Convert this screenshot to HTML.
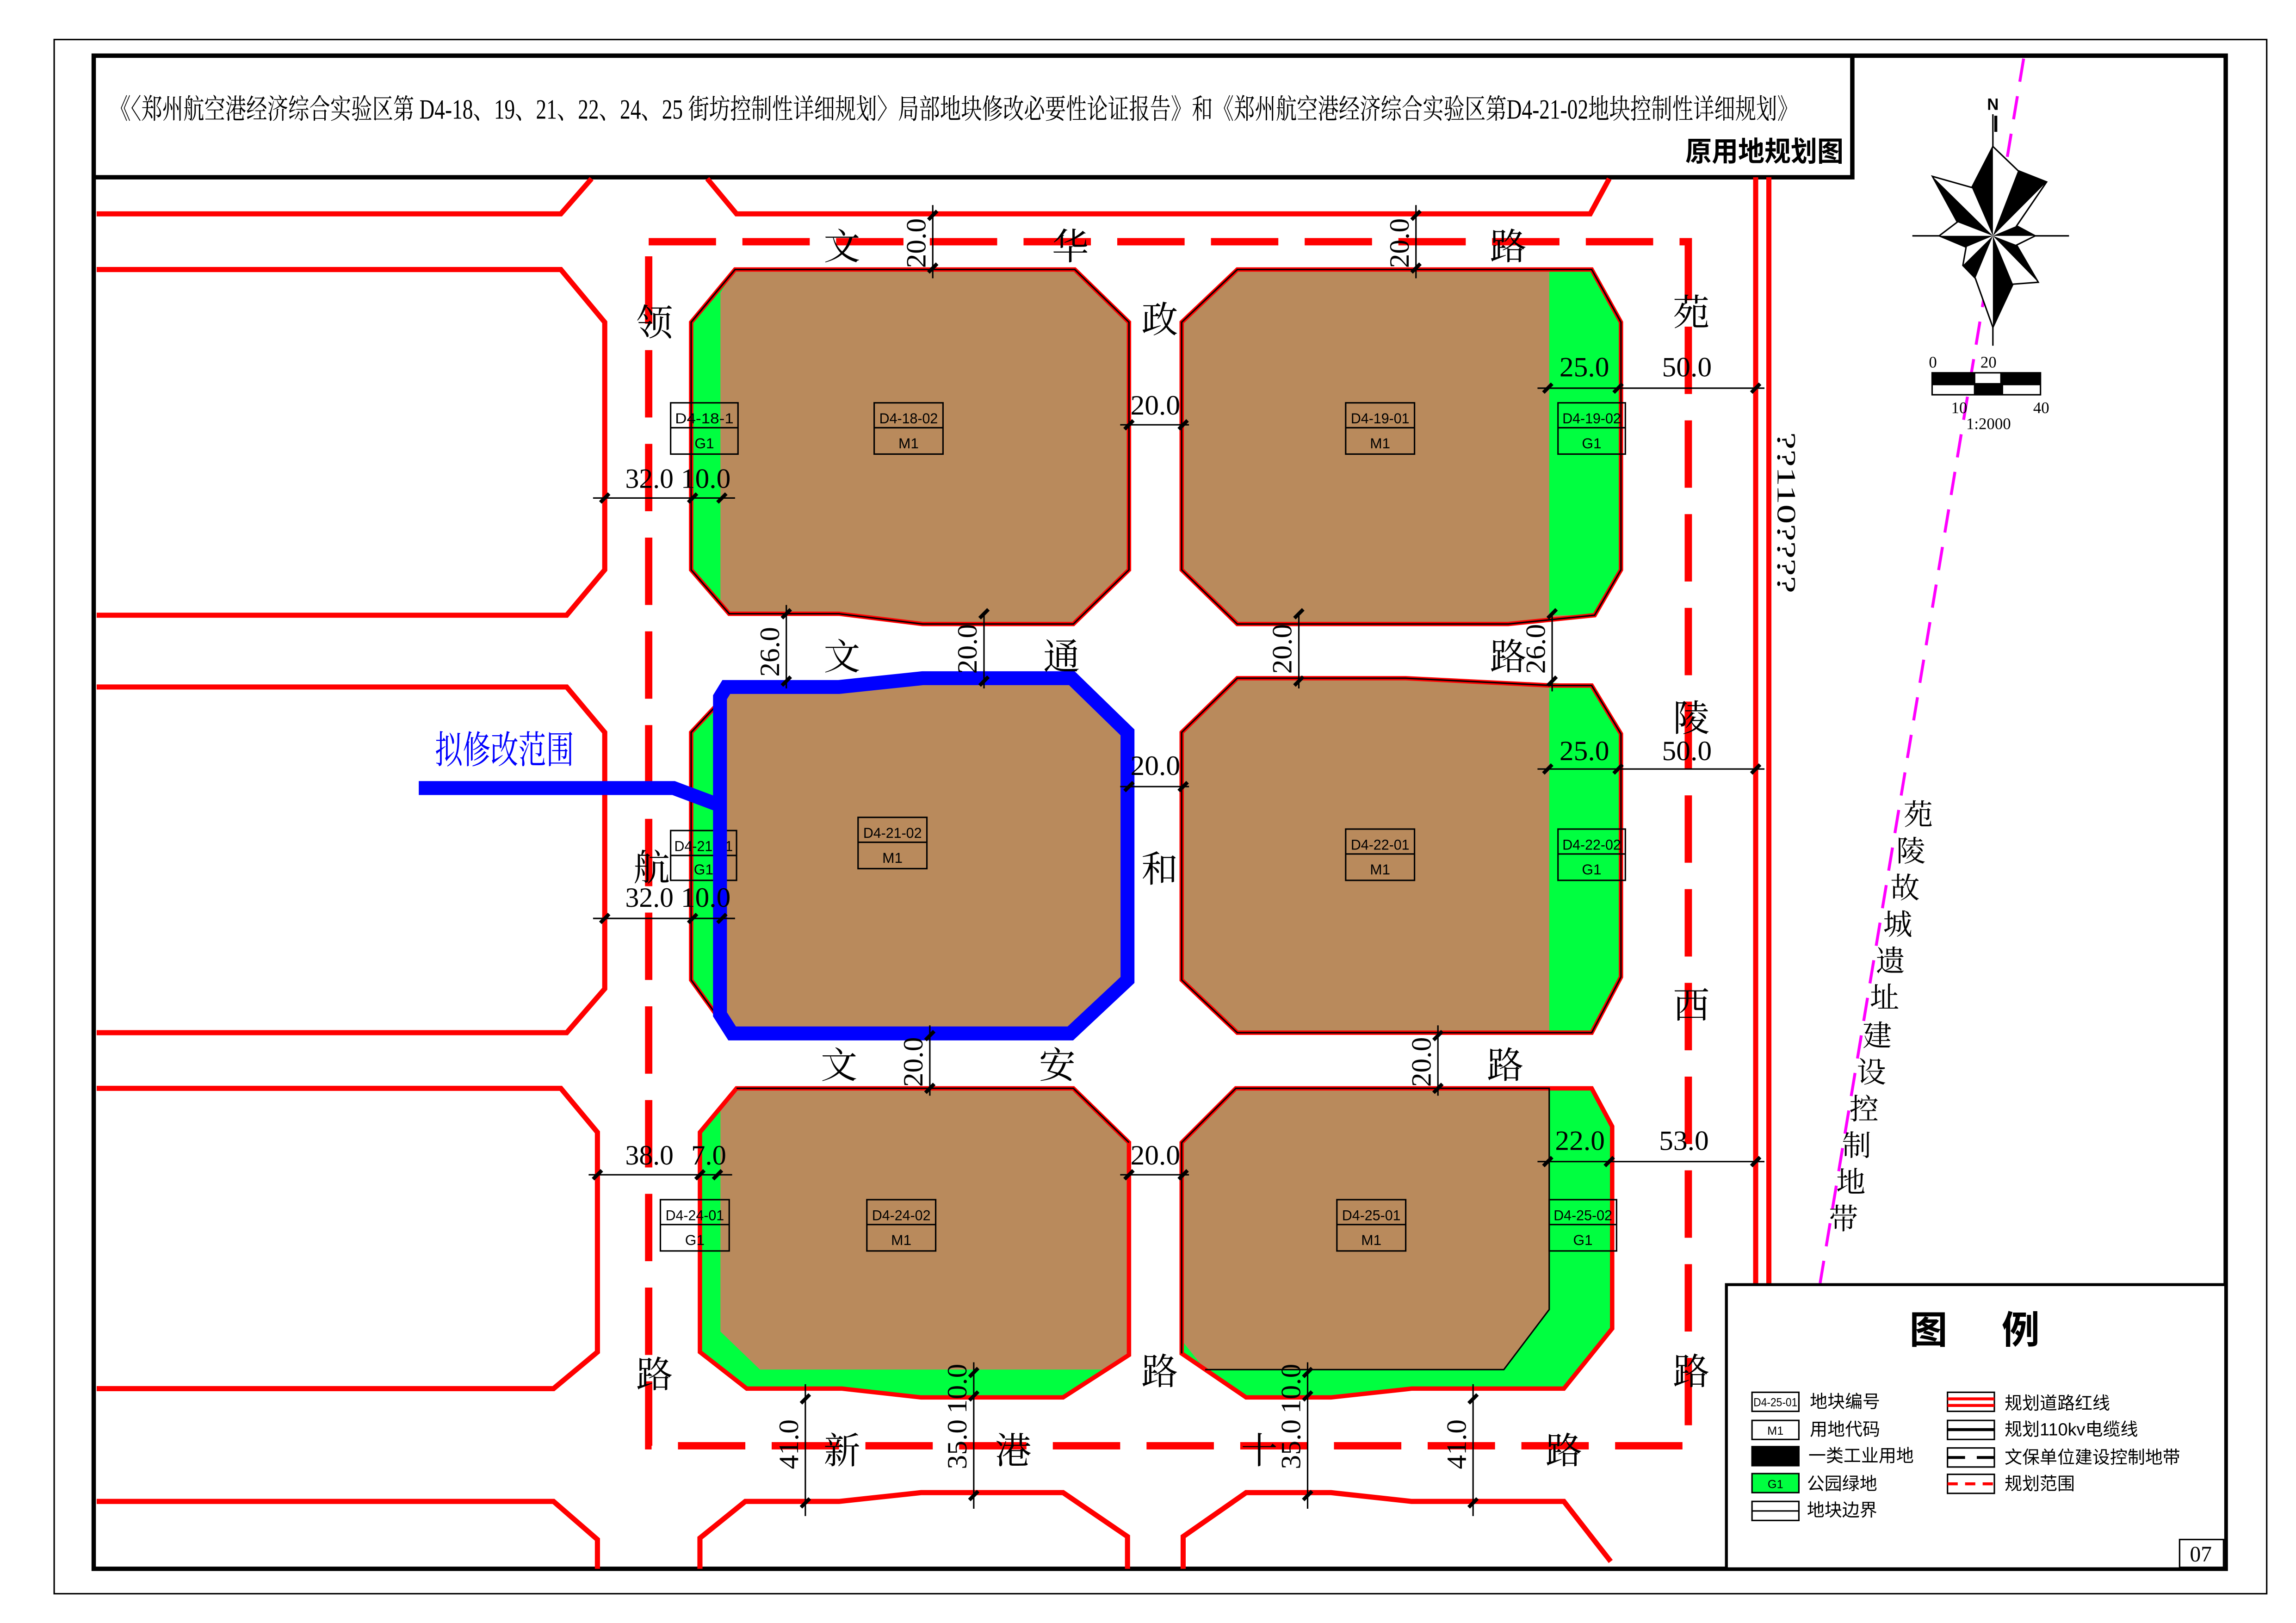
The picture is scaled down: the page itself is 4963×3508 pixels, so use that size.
<!DOCTYPE html>
<html><head><meta charset="utf-8">
<style>
html,body{margin:0;padding:0;background:#fff;}
svg{display:block;}
.serif{font-family:"Liberation Serif","Noto Serif CJK SC",serif;}
.sans{font-family:"Liberation Sans","Noto Sans CJK SC",sans-serif;}
</style></head>
<body>
<svg width="4963" height="3508" viewBox="0 0 1568 1108" preserveAspectRatio="none" xmlns="http://www.w3.org/2000/svg">
<rect x="0" y="0" width="1568" height="1108" fill="#fff"/>
<!-- outer frames -->
<rect x="37" y="27" width="1511" height="1061" fill="none" stroke="#000" stroke-width="1"/>
<rect x="64" y="38" width="1456" height="1033" fill="none" stroke="#000" stroke-width="3"/>
<path d="M64 121 H1265 V38" fill="none" stroke="#000" stroke-width="3"/>

<!-- red road lines -->
<g fill="none" stroke="#ff0000" stroke-width="3.5" stroke-linejoin="miter">
<polyline points="66,146 383,146 404,122"/>
<polyline points="483,122 503,146 1086,146 1099,122"/>
<polyline points="66,184 383,184 413,220 413,389 387,420 66,420"/>
<polyline points="66,469 387,469 413,500 413,675 387,705 66,705"/>
<polyline points="66,743 383,743 408,773 408,923 378,948 66,948"/>
<polyline points="66,1025 378,1025 408,1051 408,1071"/>
<polyline points="478,1071 478,1050 509,1025 573,1025 629,1019 726,1019 770,1049 770,1071"/>
<polyline points="808,1071 808,1049 851,1019 909,1019 964,1025 1068,1025 1100,1066"/>
<line x1="1199" y1="121" x2="1199" y2="876" stroke-width="3.5"/>
<line x1="1208" y1="121" x2="1208" y2="876" stroke-width="3.5"/>
</g>

<!-- planning boundary dashed -->
<rect x="443" y="165" width="710" height="822" fill="none" stroke="#ff0000" stroke-width="5" stroke-dasharray="46,18"/>

<!-- magenta dashed -->
<line x1="1382" y1="40" x2="1243" y2="876" stroke="#ff00ff" stroke-width="2" stroke-dasharray="16,10"/>

<!-- BLOCK 1 D4-18 -->
<polygon points="502,184 734,184 771,220 771,389 733,426 630,426 573,419 498,419 472,389 472,220" fill="#b98a5c"/>
<polygon points="502,184 492,200 492,411 498,419 472,389 472,220" fill="#00ff40"/>
<polygon points="502,184 734,184 771,220 771,389 733,426 630,426 573,419 498,419 472,389 472,220" fill="none" stroke="#ff0000" stroke-width="3"/>
<polygon points="502,184 734,184 771,220 771,389 733,426 630,426 573,419 498,419 472,389 472,220" fill="none" stroke="#000" stroke-width="1"/>

<!-- BLOCK 2 D4-19 -->
<polygon points="845,184 1087,184 1107,220 1107,389 1089,420 1030,426 845,426 807,389 807,220" fill="#b98a5c"/>
<polygon points="1058,184 1087,184 1107,220 1107,389 1089,420 1058,420" fill="#00ff40"/>
<polygon points="845,184 1087,184 1107,220 1107,389 1089,420 1030,426 845,426 807,389 807,220" fill="none" stroke="#ff0000" stroke-width="3"/>
<polygon points="845,184 1087,184 1107,220 1107,389 1089,420 1030,426 845,426 807,389 807,220" fill="none" stroke="#000" stroke-width="1"/>

<!-- BLOCK 3 D4-21 -->
<polygon points="502,468 575,468 630,463 733,463 771,500 771,669 733,705 498,705 472,669 472,500" fill="#b98a5c"/>
<polygon points="497,470 492,478 492,700 498,705 472,669 472,500" fill="#00ff40"/>
<polygon points="502,468 575,468 630,463 733,463 771,500 771,669 733,705 498,705 472,669 472,500" fill="none" stroke="#ff0000" stroke-width="3"/>
<polygon points="502,468 575,468 630,463 733,463 771,500 771,669 733,705 498,705 472,669 472,500" fill="none" stroke="#000" stroke-width="1"/>

<!-- BLOCK 4 D4-22 -->
<polygon points="845,463 960,463 1060,468 1087,468 1107,501 1107,667 1087,705 845,705 807,669 807,500" fill="#b98a5c"/>
<polygon points="1058,466 1087,468 1107,501 1107,667 1087,705 1058,705" fill="#00ff40"/>
<polygon points="845,463 960,463 1060,468 1087,468 1107,501 1107,667 1087,705 845,705 807,669 807,500" fill="none" stroke="#ff0000" stroke-width="3"/>
<polygon points="845,463 960,463 1060,468 1087,468 1107,501 1107,667 1087,705 845,705 807,669 807,500" fill="none" stroke="#000" stroke-width="1"/>

<!-- BLOCK 5 D4-24 -->
<polygon points="503,743 733,743 771,780 771,925 726,954 629,954 575,948 510,948 478,923 478,773" fill="#00ff40"/>
<polygon points="503,743 733,743 771,780 771,924 755,935 519,935 492,909 492,756" fill="#b98a5c"/>
<polygon points="503,743 733,743 771,780 771,925 726,954 629,954 575,948 510,948 478,923 478,773" fill="none" stroke="#ff0000" stroke-width="3"/>
<polyline points="771,780 733,743 503,743" fill="none" stroke="#000" stroke-width="1"/>

<!-- BLOCK 6 D4-25 -->
<polygon points="844,743 1087,743 1101,769 1101,907 1068,948 964,948 909,954 851,954 807,924 807,780" fill="#00ff40"/>
<polygon points="844,743 1058,743 1058,894 1027,935 823,935 807,915 807,780" fill="#b98a5c"/>
<polygon points="844,743 1087,743 1101,769 1101,907 1068,948 964,948 909,954 851,954 807,924 807,780" fill="none" stroke="#ff0000" stroke-width="3"/>
<polyline points="807,924 807,780 844,743 1058,743 1058,894 1027,935 823,935" fill="none" stroke="#000" stroke-width="1"/>

<!-- label boxes -->
<g class="sans" font-size="10" text-anchor="middle" fill="#000">
<g fill="none" stroke="#000" stroke-width="1">
<rect x="597" y="275" width="47" height="35"/><line x1="597" y1="292" x2="644" y2="292"/>
<rect x="458" y="275" width="46" height="35"/><line x1="458" y1="292" x2="504" y2="292"/>
<rect x="919" y="275" width="47" height="35"/><line x1="919" y1="292" x2="966" y2="292"/>
<rect x="1064" y="275" width="46" height="35"/><line x1="1064" y1="292" x2="1110" y2="292"/>
<rect x="586" y="558" width="47" height="35"/><line x1="586" y1="575" x2="633" y2="575"/>
<rect x="458" y="567" width="45" height="34"/><line x1="458" y1="584" x2="503" y2="584"/>
<rect x="919" y="566" width="47" height="35"/><line x1="919" y1="583" x2="966" y2="583"/>
<rect x="1064" y="566" width="46" height="35"/><line x1="1064" y1="583" x2="1110" y2="583"/>
<rect x="592" y="819" width="47" height="35"/><line x1="592" y1="836" x2="639" y2="836"/>
<rect x="451" y="819" width="47" height="35"/><line x1="451" y1="836" x2="498" y2="836"/>
<rect x="913" y="819" width="47" height="35"/><line x1="913" y1="836" x2="960" y2="836"/>
<rect x="1058" y="819" width="46" height="35"/><line x1="1058" y1="836" x2="1104" y2="836"/>
</g>
<text x="620.5" y="289" textLength="40" lengthAdjust="spacingAndGlyphs">D4-18-02</text><text x="620.5" y="306">M1</text>
<text x="481" y="289" textLength="40" lengthAdjust="spacingAndGlyphs">D4-18-1</text><text x="481" y="306">G1</text>
<text x="942.5" y="289" textLength="40" lengthAdjust="spacingAndGlyphs">D4-19-01</text><text x="942.5" y="306">M1</text>
<text x="1087" y="289" textLength="40" lengthAdjust="spacingAndGlyphs">D4-19-02</text><text x="1087" y="306">G1</text>
<text x="609.5" y="572" textLength="40" lengthAdjust="spacingAndGlyphs">D4-21-02</text><text x="609.5" y="589">M1</text>
<text x="480.5" y="581" textLength="40" lengthAdjust="spacingAndGlyphs">D4-21-01</text><text x="480.5" y="597">G1</text>
<text x="942.5" y="580" textLength="40" lengthAdjust="spacingAndGlyphs">D4-22-01</text><text x="942.5" y="597">M1</text>
<text x="1087" y="580" textLength="40" lengthAdjust="spacingAndGlyphs">D4-22-02</text><text x="1087" y="597">G1</text>
<text x="615.5" y="833" textLength="40" lengthAdjust="spacingAndGlyphs">D4-24-02</text><text x="615.5" y="850">M1</text>
<text x="474.5" y="833" textLength="40" lengthAdjust="spacingAndGlyphs">D4-24-01</text><text x="474.5" y="850">G1</text>
<text x="936.5" y="833" textLength="40" lengthAdjust="spacingAndGlyphs">D4-25-01</text><text x="936.5" y="850">M1</text>
<text x="1081" y="833" textLength="40" lengthAdjust="spacingAndGlyphs">D4-25-02</text><text x="1081" y="850">G1</text>
</g>

<!-- blue modification boundary -->
<g fill="none" stroke="#0000ff" stroke-width="9.5" stroke-linejoin="miter">
<polyline points="286,538 460,538 492,550"/>
<polygon points="496,469 573,469 630,463 732,463 770,500 770,669 731,705.5 500,705.5 491.7,692.5 491.7,476"/>
</g>
<text x="297" y="521" class="serif" font-size="26" fill="#0000ff" textLength="95" lengthAdjust="spacingAndGlyphs">拟修改范围</text>

<!-- dimension lines -->
<g stroke="#000" stroke-width="1" fill="none">
<line x1="637" y1="140" x2="637" y2="190"/>
<line x1="967" y1="140" x2="967" y2="190"/>
<line x1="765" y1="290" x2="812" y2="290"/>
<line x1="405" y1="340" x2="502" y2="340"/>
<line x1="1050" y1="265" x2="1205" y2="265"/>
<line x1="537" y1="413" x2="537" y2="470"/>
<line x1="672" y1="418" x2="672" y2="470"/>
<line x1="887" y1="418" x2="887" y2="470"/>
<line x1="1060" y1="418" x2="1060" y2="472"/>
<line x1="765" y1="537" x2="812" y2="537"/>
<line x1="1050" y1="525" x2="1205" y2="525"/>
<line x1="405" y1="627" x2="502" y2="627"/>
<line x1="635" y1="700" x2="635" y2="748"/>
<line x1="982" y1="700" x2="982" y2="748"/>
<line x1="402" y1="802" x2="500" y2="802"/>
<line x1="765" y1="802" x2="812" y2="802"/>
<line x1="1050" y1="793" x2="1205" y2="793"/>
<line x1="665" y1="930" x2="665" y2="1030"/>
<line x1="550" y1="945" x2="550" y2="1035"/>
<line x1="893" y1="930" x2="893" y2="1030"/>
<line x1="1006" y1="945" x2="1006" y2="1035"/>
</g>
<!-- ticks -->
<g stroke="#000" stroke-width="2.5">
<path d="M634 150 l6 -6 M634 186 l6 -6 M964 150 l6 -6 M964 186 l6 -6 M768 293 l6 -6 M805 293 l6 -6 M410 343 l6 -6 M470 343 l6 -6 M490 343 l6 -6 M1054 268 l6 -6 M1102 268 l6 -6 M1196 268 l6 -6 M534 422 l6 -6 M534 468 l6 -6 M669 422 l6 -6 M669 468 l6 -6 M884 422 l6 -6 M884 468 l6 -6 M1057 422 l6 -6 M1057 468 l6 -6 M768 540 l6 -6 M805 540 l6 -6 M1054 528 l6 -6 M1102 528 l6 -6 M1196 528 l6 -6 M410 630 l6 -6 M470 630 l6 -6 M490 630 l6 -6 M632 710 l6 -6 M632 746 l6 -6 M979 710 l6 -6 M979 746 l6 -6 M405 805 l6 -6 M475 805 l6 -6 M487 805 l6 -6 M768 805 l6 -6 M805 805 l6 -6 M1054 796 l6 -6 M1096 796 l6 -6 M1196 796 l6 -6 M662 940 l6 -6 M662 956 l6 -6 M662 1024 l6 -6 M547 958 l6 -6 M547 1029 l6 -6 M890 940 l6 -6 M890 956 l6 -6 M890 1024 l6 -6 M1003 958 l6 -6 M1003 1029 l6 -6"/>
</g>
<!-- dimension texts -->
<g class="serif" font-size="19" fill="#000">
<text x="427" y="333" textLength="33" lengthAdjust="spacingAndGlyphs">32.0</text>
<text x="465" y="333" textLength="34" lengthAdjust="spacingAndGlyphs">10.0</text>
<text x="772" y="283" textLength="34" lengthAdjust="spacingAndGlyphs">20.0</text>
<text x="1065" y="257" textLength="34" lengthAdjust="spacingAndGlyphs">25.0</text>
<text x="1135" y="257" textLength="34" lengthAdjust="spacingAndGlyphs">50.0</text>
<text x="772" y="529" textLength="34" lengthAdjust="spacingAndGlyphs">20.0</text>
<text x="1065" y="519" textLength="34" lengthAdjust="spacingAndGlyphs">25.0</text>
<text x="1135" y="519" textLength="34" lengthAdjust="spacingAndGlyphs">50.0</text>
<text x="427" y="619" textLength="33" lengthAdjust="spacingAndGlyphs">32.0</text>
<text x="465" y="619" textLength="34" lengthAdjust="spacingAndGlyphs">10.0</text>
<text x="427" y="795" textLength="33" lengthAdjust="spacingAndGlyphs">38.0</text>
<text x="472" y="795" textLength="24" lengthAdjust="spacingAndGlyphs">7.0</text>
<text x="772" y="795" textLength="34" lengthAdjust="spacingAndGlyphs">20.0</text>
<text x="1062" y="785" textLength="34" lengthAdjust="spacingAndGlyphs">22.0</text>
<text x="1133" y="785" textLength="34" lengthAdjust="spacingAndGlyphs">53.0</text>
<text transform="translate(632,183) rotate(-90)" textLength="34" lengthAdjust="spacingAndGlyphs">20.0</text>
<text transform="translate(962,183) rotate(-90)" textLength="34" lengthAdjust="spacingAndGlyphs">20.0</text>
<text transform="translate(532,462) rotate(-90)" textLength="34" lengthAdjust="spacingAndGlyphs">26.0</text>
<text transform="translate(667,460) rotate(-90)" textLength="34" lengthAdjust="spacingAndGlyphs">20.0</text>
<text transform="translate(882,460) rotate(-90)" textLength="34" lengthAdjust="spacingAndGlyphs">20.0</text>
<text transform="translate(1055,460) rotate(-90)" textLength="34" lengthAdjust="spacingAndGlyphs">26.0</text>
<text transform="translate(630,742) rotate(-90)" textLength="34" lengthAdjust="spacingAndGlyphs">20.0</text>
<text transform="translate(977,742) rotate(-90)" textLength="34" lengthAdjust="spacingAndGlyphs">20.0</text>
<text transform="translate(660,965) rotate(-90)" textLength="34" lengthAdjust="spacingAndGlyphs">10.0</text>
<text transform="translate(660,1003) rotate(-90)" textLength="34" lengthAdjust="spacingAndGlyphs">35.0</text>
<text transform="translate(545,1003) rotate(-90)" textLength="34" lengthAdjust="spacingAndGlyphs">41.0</text>
<text transform="translate(888,965) rotate(-90)" textLength="34" lengthAdjust="spacingAndGlyphs">10.0</text>
<text transform="translate(888,1003) rotate(-90)" textLength="34" lengthAdjust="spacingAndGlyphs">35.0</text>
<text transform="translate(1001,1003) rotate(-90)" textLength="34" lengthAdjust="spacingAndGlyphs">41.0</text>
<text transform="translate(1214,295) rotate(90)" font-size="18" textLength="110" lengthAdjust="spacingAndGlyphs">??110????</text>
</g>

<!-- road names -->
<g class="serif" font-size="25" fill="#000" text-anchor="middle">
<text x="575" y="177">文</text><text x="731" y="177">华</text><text x="1030" y="177">路</text>
<text x="447" y="229">领</text><text x="792" y="227">政</text><text x="1155" y="222">苑</text>
<text x="575" y="457">文</text><text x="725" y="457">通</text><text x="1030" y="457">路</text>
<text x="1155" y="499">陵</text>
<text x="445" y="601">航</text><text x="792" y="602">和</text><text x="1155" y="695">西</text>
<text x="573" y="736">文</text><text x="722" y="736">安</text><text x="1028" y="736">路</text>
<text x="447" y="947">路</text><text x="792" y="945">路</text><text x="1155" y="945">路</text>
<text x="575" y="999">新</text><text x="692" y="999">港</text><text x="860" y="999">十</text><text x="1068" y="999">路</text>
</g>

<!-- magenta zone label -->
<g class="serif" font-size="20" fill="#000" text-anchor="middle">
<text x="1310" y="563">苑</text><text x="1305" y="588">陵</text><text x="1301" y="613">故</text>
<text x="1296" y="638">城</text><text x="1291" y="663">遗</text><text x="1287" y="688">址</text>
<text x="1282" y="714">建</text><text x="1278" y="739">设</text><text x="1273" y="764">控</text>
<text x="1268" y="789">制</text><text x="1264" y="814">地</text><text x="1259" y="839">带</text>
</g>

<!-- title -->
<text x="75" y="81" class="serif" font-size="19" fill="#000" textLength="1153" lengthAdjust="spacingAndGlyphs">《〈郑州航空港经济综合实验区第 D4-18、19、21、22、24、25 街坊控制性详细规划〉局部地块修改必要性论证报告》和《郑州航空港经济综合实验区第D4-21-02地块控制性详细规划》</text>
<text x="1151" y="110" class="sans" font-size="19" font-weight="bold" fill="#000" textLength="108" lengthAdjust="spacingAndGlyphs">原用地规划图</text>

<!-- north arrow -->
<g transform="translate(1361,161)">
<line x1="-55" y1="0" x2="52" y2="0" stroke="#000" stroke-width="1"/>
<line x1="0" y1="-83" x2="0" y2="75" stroke="#000" stroke-width="1"/>
<line x1="2" y1="-82" x2="2" y2="-71" stroke="#000" stroke-width="2"/>
<polygon points="0,-61 17.2,-44.5 36.7,-36.8 16.2,-6.8 28.9,0 16.2,6.3 31,31.7 13.7,33 0,62.5 -12,29 -20.5,20.2 -18.3,7.7 -36.7,0 -24.3,-9.4 -41.3,-40.6 -14.4,-33" fill="#fff" stroke="#000" stroke-width="1"/>
<g fill="#000">
<polygon points="0,0 0,-61 -14.4,-33"/>
<polygon points="0,0 17.2,-44.5 36.7,-36.8"/>
<polygon points="0,0 16.2,-6.8 28.9,0"/>
<polygon points="0,0 31,31.7 16.2,6.3"/>
<polygon points="0,0 13.7,33 0,62.5"/>
<polygon points="0,0 -12,29 -20.5,20.2"/>
<polygon points="0,0 -36.7,0 -18.3,7.7"/>
<polygon points="0,0 -41.3,-40.6 -24.3,-9.4"/>
</g>
<text x="0" y="-86" class="sans" font-size="11" font-weight="bold" text-anchor="middle">N</text>
</g>
<!-- scale bar -->
<rect x="1319" y="254" width="75" height="16" fill="#000"/>
<rect x="1349" y="255" width="17" height="6.5" fill="#fff"/>
<rect x="1320" y="263" width="28" height="6" fill="#fff"/>
<rect x="1368" y="263" width="25" height="6" fill="#fff"/>
<g class="serif" font-size="11" fill="#000" text-anchor="middle">
<text x="1320" y="251">0</text><text x="1358" y="251">20</text>
<text x="1338" y="282">10</text><text x="1394" y="282">40</text>
<text x="1358" y="293">1:2000</text>
</g>

<!-- legend -->
<rect x="1179" y="877" width="341" height="194" fill="#fff" stroke="#000" stroke-width="2"/>
<text x="1304" y="917" class="sans" font-size="26" font-weight="bold" fill="#000">图</text>
<text x="1367" y="917" class="sans" font-size="26" font-weight="bold" fill="#000">例</text>
<g stroke="#000" stroke-width="1" fill="#fff">
<rect x="1196.5" y="950.5" width="32" height="13"/>
<rect x="1196.5" y="969.7" width="32" height="13"/>
<rect x="1196.5" y="987.6" width="32" height="13" fill="#000"/>
<rect x="1196.5" y="1006" width="32" height="13" fill="#00ff40"/>
<rect x="1196.5" y="1025" width="32" height="13"/><line x1="1196.5" y1="1031.5" x2="1228.5" y2="1031.5"/>
<rect x="1330" y="950.5" width="32" height="13"/>
<rect x="1330" y="969.7" width="32" height="13"/>
<rect x="1330" y="988.5" width="32" height="13"/>
<rect x="1330" y="1006.5" width="32" height="13"/>
</g>
<g stroke-width="2">
<line x1="1330" y1="955" x2="1362" y2="955" stroke="#ff0000"/>
<line x1="1330" y1="959.5" x2="1362" y2="959.5" stroke="#ff0000"/>
<line x1="1330" y1="976" x2="1362" y2="976" stroke="#000"/>
<line x1="1330" y1="995" x2="1342" y2="995" stroke="#000"/>
<line x1="1350" y1="995" x2="1362" y2="995" stroke="#000"/>
<line x1="1330" y1="1013" x2="1362" y2="1013" stroke="#ff0000" stroke-dasharray="7,5"/>
</g>
<g class="sans" font-size="8" fill="#000" text-anchor="middle">
<text x="1212.5" y="960" textLength="30" lengthAdjust="spacingAndGlyphs">D4-25-01</text>
<text x="1212.5" y="979.5">M1</text>
<text x="1212.5" y="1016">G1</text>
</g>
<g class="sans" font-size="12" fill="#000">
<text x="1236" y="961">地块编号</text>
<text x="1236" y="980">用地代码</text>
<text x="1235" y="998">一类工业用地</text>
<text x="1234" y="1017">公园绿地</text>
<text x="1234" y="1035">地块边界</text>
<text x="1369" y="962">规划道路红线</text>
<text x="1369" y="980">规划110kv电缆线</text>
<text x="1369" y="999">文保单位建设控制地带</text>
<text x="1369" y="1017">规划范围</text>
</g>
<rect x="1488.5" y="1051" width="30" height="19" fill="none" stroke="#000" stroke-width="1"/>
<text x="1503" y="1066" class="serif" font-size="15" fill="#000" text-anchor="middle">07</text>
</svg>
</body></html>
